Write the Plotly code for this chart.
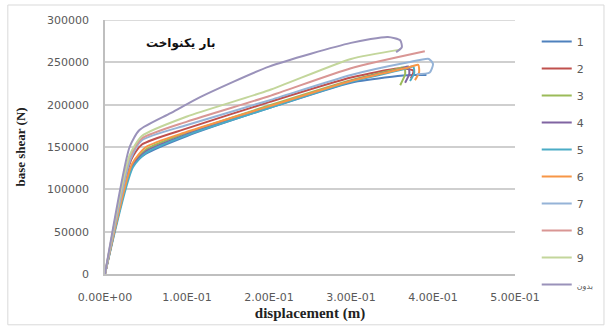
import plotly.graph_objects as go

# Pushover curves: displacement (m) vs base shear (N)
names = ["1", "2", "3", "4", "5", "6", "7", "8", "9",
         "<span style='font-size:8px'>بدون</span>"]
colors = ["#4F81BD", "#C0504D", "#9BBB59", "#8064A2", "#4BACC6",
          "#F79646", "#95B3D7", "#D99694", "#C3D69B", "#9A92BA"]

disp_1 = [0, 0.033, 0.05, 0.1, 0.2, 0.3, 0.35, 0.375, 0.392]
shear_1 = [0, 128000, 142000, 163000, 196000, 226000, 233000, 235000, 235000]
disp_2 = [0, 0.032, 0.045, 0.1, 0.2, 0.3, 0.36, 0.376, 0.373]
shear_2 = [0, 135000, 153000, 172000, 203000, 232000, 243000, 240000, 231000]
disp_3 = [0, 0.033, 0.05, 0.1, 0.2, 0.3, 0.355, 0.365, 0.366, 0.36]
shear_3 = [0, 128000, 147000, 167000, 199000, 229000, 242000, 244000, 236000, 223000]
disp_4 = [0, 0.033, 0.05, 0.1, 0.2, 0.3, 0.36, 0.37, 0.371, 0.366]
shear_4 = [0, 127000, 145000, 165000, 197000, 228000, 242000, 245000, 236000, 226000]
disp_5 = [0, 0.034, 0.05, 0.1, 0.2, 0.3, 0.365, 0.376, 0.377, 0.372]
shear_5 = [0, 126000, 143000, 164000, 196000, 227000, 242000, 245000, 237000, 228000]
disp_6 = [0, 0.033, 0.05, 0.1, 0.2, 0.3, 0.37, 0.382, 0.383, 0.378]
shear_6 = [0, 130000, 150000, 168000, 198000, 228000, 244000, 247000, 238000, 229000]
disp_7 = [0, 0.031, 0.045, 0.1, 0.2, 0.3, 0.37, 0.395, 0.4, 0.396, 0.38]
shear_7 = [0, 135000, 158000, 176000, 205000, 235000, 250000, 254000, 248000, 238000, 236000]
disp_8 = [0, 0.03, 0.045, 0.1, 0.2, 0.3, 0.39]
shear_8 = [0, 138000, 160000, 180000, 210000, 243000, 263000]
disp_9 = [0, 0.03, 0.045, 0.1, 0.2, 0.3, 0.36]
shear_9 = [0, 140000, 163000, 186000, 217000, 254000, 265000]
disp_0 = [0, 0.03, 0.042, 0.08, 0.116, 0.2, 0.3, 0.345, 0.36, 0.362, 0.355]
shear_0 = [0, 150000, 170000, 190000, 209000, 245000, 273000, 280000, 276000, 268000, 262000]

disps = [disp_1, disp_2, disp_3, disp_4, disp_5, disp_6, disp_7, disp_8, disp_9, disp_0]
shears = [shear_1, shear_2, shear_3, shear_4, shear_5, shear_6, shear_7, shear_8, shear_9, shear_0]

x_ticks = [0, 0.1, 0.2, 0.3, 0.4, 0.5]
x_tick_text = ["0.00E+00", "1.00E-01", "2.00E-01", "3.00E-01", "4.00E-01", "5.00E-01"]
y_ticks = [0, 50000, 100000, 150000, 200000, 250000, 300000]
y_tick_text = ["0", "50000", "100000", "150000", "200000", "250000", "300000"]

GRID = "#CFCFCF"

fig = go.Figure()
for i, (name, col, xs, ys) in enumerate(zip(names, colors, disps, shears)):
    fig.add_trace(go.Scatter(
        x=xs, y=ys, name=name, mode="lines",
        line=dict(color=col, width=2, shape="spline", smoothing=0.6),
        legendgroup=f"g{i}",
    ))

tick_font = dict(family="DejaVu Sans", size=11, color="#595959")

fig.update_layout(
    width=606, height=326,
    margin=dict(l=105, r=91, t=20, b=52, autoexpand=False),
    paper_bgcolor="white", plot_bgcolor="white",
    showlegend=True,
    legend=dict(
        x=1.053, y=0.972, xanchor="left", yanchor="top",
        font=dict(family="DejaVu Sans", size=11, color="#595959"),
        tracegroupgap=8, itemwidth=30, bgcolor="rgba(0,0,0,0)",
        maxheight=320,
    ),
    xaxis=dict(
        range=[0, 0.5], tickvals=x_ticks, ticktext=x_tick_text,
        showgrid=False, zeroline=False, showline=True,
        linecolor="#BFBFBF", linewidth=1.5, ticks="",
        tickfont=tick_font, ticklabelstandoff=12,
        title=dict(text="<b>displacement (m)</b>",
                   font=dict(family="Liberation Serif", size=15, color="#222222"),
                   standoff=5),
    ),
    yaxis=dict(
        range=[0, 300000], tickvals=y_ticks, ticktext=y_tick_text,
        showgrid=True, gridcolor=GRID, gridwidth=1.5,
        zeroline=False, showline=True, linecolor="#BFBFBF", linewidth=1.5,
        ticks="", tickfont=tick_font, ticklabelstandoff=12,
        title=dict(text="<b>base shear (N)</b>",
                   font=dict(family="Liberation Serif", size=13, color="#222222"),
                   standoff=18),
    ),
    annotations=[dict(
        text="<b>بار یکنواخت</b>", x=0.095, y=0.944, xref="paper", yref="paper",
        showarrow=False, font=dict(family="DejaVu Sans", size=12, color="#111111"),
    )],
    shapes=[
        # outer chart frame
        dict(type="rect", xref="paper", yref="paper",
             x0=-0.237, x1=1.217, y0=-0.2, y1=1.059,
             line=dict(color="#D9D9D9", width=1), fillcolor="rgba(0,0,0,0)"),
        # gridline at the top of the value range
        dict(type="line", xref="paper", yref="y",
             x0=0, x1=1, y0=y_ticks[-1], y1=y_ticks[-1],
             line=dict(color=GRID, width=1.5), layer="below"),
    ],
)

fig.write_html("out.html")
